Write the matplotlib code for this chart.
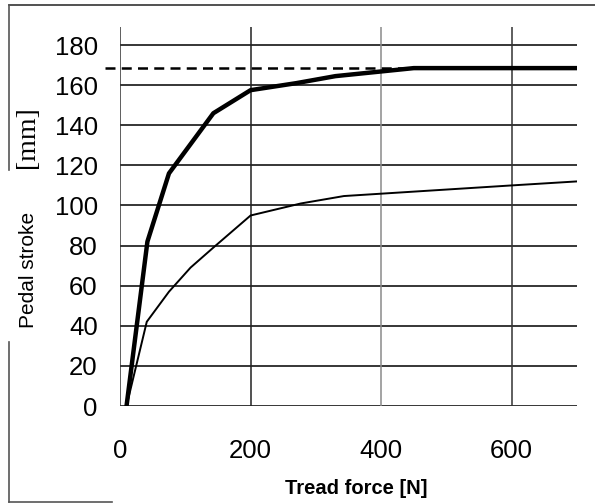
import matplotlib
matplotlib.use("Agg")
from matplotlib import pyplot as plt
from matplotlib.lines import Line2D
from matplotlib import font_manager

# Curves: tread force [N] -> pedal stroke [mm]
force_thick = [10, 42, 75, 143, 200, 270, 330, 450, 700]
stroke_thick = [0, 82, 116, 146, 157.5, 161, 164.5, 168.5, 168.5]

force_thin = [10, 41, 75, 108, 143, 200, 277, 343, 600, 700]
stroke_thin = [0, 42, 57, 69, 79, 95, 101, 104.7, 110, 112]

limit_stroke = 168.5
limit_force = [-23, 450]

xticks = [0, 200, 400, 600]
yticks = [0, 20, 40, 60, 80, 100, 120, 140, 160, 180]

names = {f.name for f in font_manager.fontManager.ttflist}
tick_font = "Liberation Sans Narrow" if "Liberation Sans Narrow" in names else "Liberation Sans"

W, H = 595, 503
fig = plt.figure(figsize=(W / 100, H / 100), dpi=100)
ax = fig.add_axes([120 / W, 97 / H, 457 / W, 379 / H])
ax.set_xlim(0, 700)
ax.set_ylim(0, 189)
for s in ax.spines.values():
    s.set_visible(False)

# grid drawn by hand so colours can differ a bit like the scan
for y in yticks:
    ax.axhline(y, color="black", lw=1.1, zorder=1)
vcol = {0: "#333333", 200: "#222222", 400: "#8a8a8a", 600: "#333333"}
for x in xticks:
    ax.axvline(x, color=vcol[x], lw=1.1, zorder=1)

ax.plot(force_thick, stroke_thick, color="black", lw=3.2, zorder=3,
        solid_joinstyle="round")
ax.plot(force_thin, stroke_thin, color="black", lw=1.4, zorder=3)
ax.plot(limit_force, [limit_stroke, limit_stroke], color="black", lw=1.8,
        ls=(0, (4, 2.5)), clip_on=False, zorder=2)

ax.set_xticks(xticks)
ax.set_yticks(yticks)
ax.tick_params(length=0)
ax.tick_params(axis="y", pad=16)
ax.tick_params(axis="x", pad=24)
for lab in ax.get_xticklabels() + ax.get_yticklabels():
    lab.set_fontfamily(tick_font)
    lab.set_fontsize(20 if tick_font != "Liberation Sans" else 18.5)

fig.text(356 / W, 1 - 488 / H, "Tread force [N]", ha="center", va="center",
         family="Liberation Sans", weight="bold", fontsize=14.5)
fig.text(28 / W, 1 - 270 / H, "Pedal stroke", ha="center", va="center",
         rotation=90, family="Liberation Sans", fontsize=15)
fig.text(28 / W, 1 - 137 / H, "[mm]", ha="center", va="center",
         rotation=90, family="Liberation Serif", fontsize=20)

# frame of the scanned figure (partly cut off)
def fline(x0, y0, x1, y1, c="#555555"):
    fig.add_artist(Line2D([x0 / W, x1 / W], [1 - y0 / H, 1 - y1 / H],
                          color=c, lw=1.2))

fline(9, 5, 595, 5, "#333333")
fline(9, 5, 9, 170)
fline(9, 342, 9, 502)
fline(9, 502, 112, 502)

fig.savefig("out.png", dpi=100)
